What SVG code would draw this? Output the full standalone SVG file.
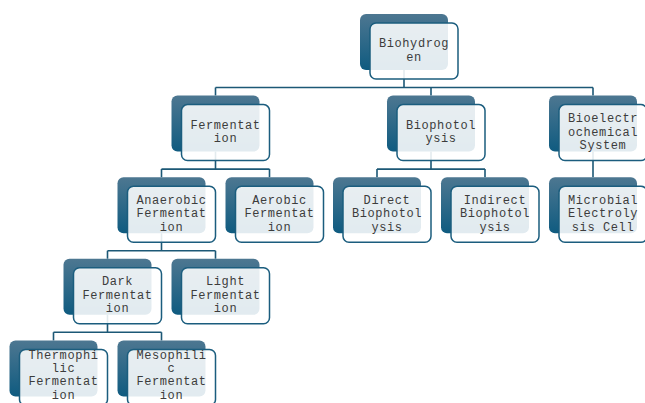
<svg xmlns="http://www.w3.org/2000/svg" width="645" height="403" viewBox="0 0 645 403">
<defs>
<linearGradient id="bg" x1="0" y1="0" x2="0" y2="1">
<stop offset="0" stop-color="#4d7791"/>
<stop offset="1" stop-color="#0f5b80"/>
</linearGradient>
<style>
.back{fill:url(#bg)}
.front{fill:#ffffff;fill-opacity:0.88;stroke:#1b5d7e;stroke-width:1.5}
.conn{fill:none;stroke:#1c5876;stroke-width:1.6}
text{font-family:"Liberation Mono","Courier New",monospace;font-size:12px;letter-spacing:0.6px;fill:#3c3c3c;text-anchor:middle}
</style>
</defs>
<rect width="645" height="403" fill="#ffffff"/>
<g id="connectors" class="conn">
<path d="M404 70V87.5M215.5 87.5H593M215.5 87.5V95.6M431 87.5V95.6M593 87.5V95.6"/>
<path d="M215.5 151.6V169.1M161.5 169.1H269.5M161.5 169.1V177.2M269.5 169.1V177.2"/>
<path d="M431 151.6V169.1M377 169.1H485M377 169.1V177.2M485 169.1V177.2"/>
<path d="M593 151.6V177.2"/>
<path d="M161.5 233.2V250.7M107.5 250.7H215.5M107.5 250.7V258.8M215.5 250.7V258.8"/>
<path d="M107.5 314.8V332.3M53.5 332.3H161.5M53.5 332.3V340.4M161.5 332.3V340.4"/>
</g>
<g id="biohydrogen">
<rect class="back" x="360" y="14" width="88" height="56" rx="6"/>
<rect class="front" x="370" y="23" width="88" height="56" rx="6"/>
<text x="414" y="47.2">Biohydrog</text><text x="414" y="60.8">en</text>
</g>
<g id="fermentation">
<rect class="back" x="171.5" y="95.6" width="88" height="56" rx="6"/>
<rect class="front" x="181.5" y="104.6" width="88" height="56" rx="6"/>
<text x="225.5" y="128.8">Fermentat</text><text x="225.5" y="142.4">ion</text>
</g>
<g id="biophotolysis">
<rect class="back" x="387" y="95.6" width="88" height="56" rx="6"/>
<rect class="front" x="397" y="104.6" width="88" height="56" rx="6"/>
<text x="441" y="128.8">Biophotol</text><text x="441" y="142.4">ysis</text>
</g>
<g id="bioelectrochemical">
<rect class="back" x="549" y="95.6" width="88" height="56" rx="6"/>
<rect class="front" x="559" y="104.6" width="88" height="56" rx="6"/>
<text x="603" y="122">Bioelectr</text><text x="603" y="135.6">ochemical</text><text x="603" y="149.2">System</text>
</g>
<g id="anaerobic">
<rect class="back" x="117.5" y="177.2" width="88" height="56" rx="6"/>
<rect class="front" x="127.5" y="186.2" width="88" height="56" rx="6"/>
<text x="171.5" y="203.6">Anaerobic</text><text x="171.5" y="217.2">Fermentat</text><text x="171.5" y="230.8">ion</text>
</g>
<g id="aerobic">
<rect class="back" x="225.5" y="177.2" width="88" height="56" rx="6"/>
<rect class="front" x="235.5" y="186.2" width="88" height="56" rx="6"/>
<text x="279.5" y="203.6">Aerobic</text><text x="279.5" y="217.2">Fermentat</text><text x="279.5" y="230.8">ion</text>
</g>
<g id="direct">
<rect class="back" x="333" y="177.2" width="88" height="56" rx="6"/>
<rect class="front" x="343" y="186.2" width="88" height="56" rx="6"/>
<text x="387" y="203.6">Direct</text><text x="387" y="217.2">Biophotol</text><text x="387" y="230.8">ysis</text>
</g>
<g id="indirect">
<rect class="back" x="441" y="177.2" width="88" height="56" rx="6"/>
<rect class="front" x="451" y="186.2" width="88" height="56" rx="6"/>
<text x="495" y="203.6">Indirect</text><text x="495" y="217.2">Biophotol</text><text x="495" y="230.8">ysis</text>
</g>
<g id="microbial">
<rect class="back" x="549" y="177.2" width="88" height="56" rx="6"/>
<rect class="front" x="559" y="186.2" width="88" height="56" rx="6"/>
<text x="603" y="203.6">Microbial</text><text x="603" y="217.2">Electroly</text><text x="603" y="230.8">sis Cell</text>
</g>
<g id="dark">
<rect class="back" x="63.5" y="258.8" width="88" height="56" rx="6"/>
<rect class="front" x="73.5" y="267.8" width="88" height="56" rx="6"/>
<text x="117.5" y="285.2">Dark</text><text x="117.5" y="298.8">Fermentat</text><text x="117.5" y="312.4">ion</text>
</g>
<g id="light">
<rect class="back" x="171.5" y="258.8" width="88" height="56" rx="6"/>
<rect class="front" x="181.5" y="267.8" width="88" height="56" rx="6"/>
<text x="225.5" y="285.2">Light</text><text x="225.5" y="298.8">Fermentat</text><text x="225.5" y="312.4">ion</text>
</g>
<g id="thermophilic">
<rect class="back" x="9.5" y="340.4" width="88" height="56" rx="6"/>
<rect class="front" x="19.5" y="349.4" width="88" height="56" rx="6"/>
<text x="63.5" y="358.6">Thermophi</text><text x="63.5" y="372">lic</text><text x="63.5" y="385.4">Fermentat</text><text x="63.5" y="398.8">ion</text>
</g>
<g id="mesophilic">
<rect class="back" x="117.5" y="340.4" width="88" height="56" rx="6"/>
<rect class="front" x="127.5" y="349.4" width="88" height="56" rx="6"/>
<text x="171.5" y="358.6">Mesophili</text><text x="171.5" y="372">c</text><text x="171.5" y="385.4">Fermentat</text><text x="171.5" y="398.8">ion</text>
</g>
</svg>
